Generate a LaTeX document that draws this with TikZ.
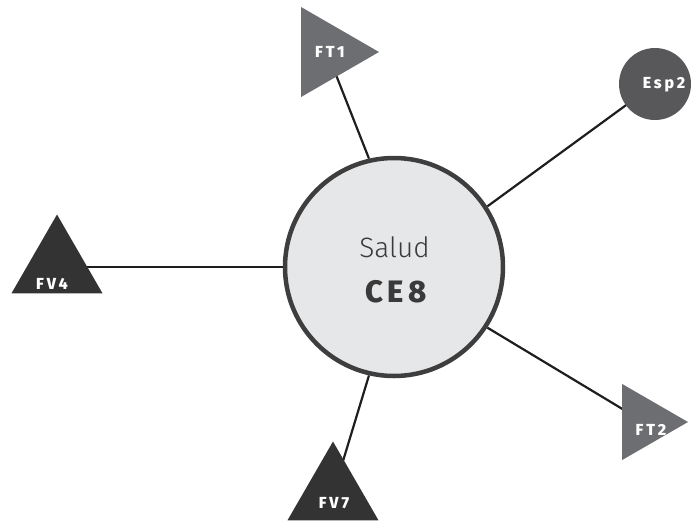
\documentclass[tikz,border=0pt]{standalone}
\usepackage{fontspec}
\setmainfont{Fira Sans}
\newfontfamily\lightfont{Fira Sans Light}
\newfontfamily\heavyfont{Fira Sans ExtraBold}[LetterSpace=18]
\newfontfamily\bigheavyfont{Fira Sans ExtraBold}[LetterSpace=15]
\usetikzlibrary{shapes.geometric,backgrounds}
\definecolor{hubfill}{HTML}{E6E7E8}
\definecolor{hubline}{HTML}{3E3E3F}
\definecolor{hubtext}{HTML}{3A3A3B}
\definecolor{ftgrey}{HTML}{6D6E71}
\definecolor{fvdark}{HTML}{333333}
\definecolor{espgrey}{HTML}{58585A}
\definecolor{linkcol}{HTML}{1E1E1E}
\begin{document}
\begin{tikzpicture}[x=1pt,y=-1pt,
  hub/.style={circle,draw=hubline,line width=4.5pt,fill=hubfill,minimum size=218pt,inner sep=0pt},
  tri/.style={regular polygon,regular polygon sides=3,inner sep=0pt,draw=none,minimum size=#1},
  ftshape/.style={tri=#1,fill=ftgrey,shape border rotate=-90},
  fvshape/.style={tri=#1,fill=fvdark},
  espshape/.style={circle,fill=espgrey,minimum size=72pt,inner sep=0pt},
  tlab/.style={text=white,font=\heavyfont\fontsize{16}{17}\selectfont,inner sep=0pt},
  link/.style={draw=linkcol,line width=2.2pt}]
\useasboundingbox (0,0) rectangle (691,520);
\node[hub] (hub) at (394,267) {};
\node[text=hubtext,font=\lightfont\fontsize{28}{29}\selectfont,anchor=base] (salud) at (394.5,257) {Salud};
\node[text=hubtext,font=\bigheavyfont\fontsize{31}{32}\selectfont,anchor=base] (ce8) at (396,302) {CE8};
\node[ftshape=104pt] (ft1) at (327,52) {};
\node[tlab,anchor=base] (ft1t) at (330,57.5) {FT1};
\node[espshape] (esp2) at (655,84) {};
\node[tlab,anchor=base] (esp2t) at (664,88.5) {Esp2};
\node[fvshape=105pt] (fv4) at (57,267) {};
\node[tlab,anchor=base] (fv4t) at (52,289) {FV4};
\node[ftshape=88pt] (ft2) at (644,422) {};
\node[tlab,anchor=base] (ft2t) at (651,435.5) {FT2};
\node[fvshape=105pt] (fv7) at (333,494) {};
\node[tlab,anchor=base] (fv7t) at (334,508.5) {FV7};
\begin{scope}[on background layer]
\draw[link] (hub.103.4) -- (ft1.center);
\draw[link] (hub.33.4) -- (esp2.center);
\draw[link] (hub.180) -- (fv4.center);
\draw[link] (hub.-33) -- (ft2.center);
\draw[link] (hub.-103.3) -- (fv7.center);
\end{scope}
\end{tikzpicture}
\end{document}
